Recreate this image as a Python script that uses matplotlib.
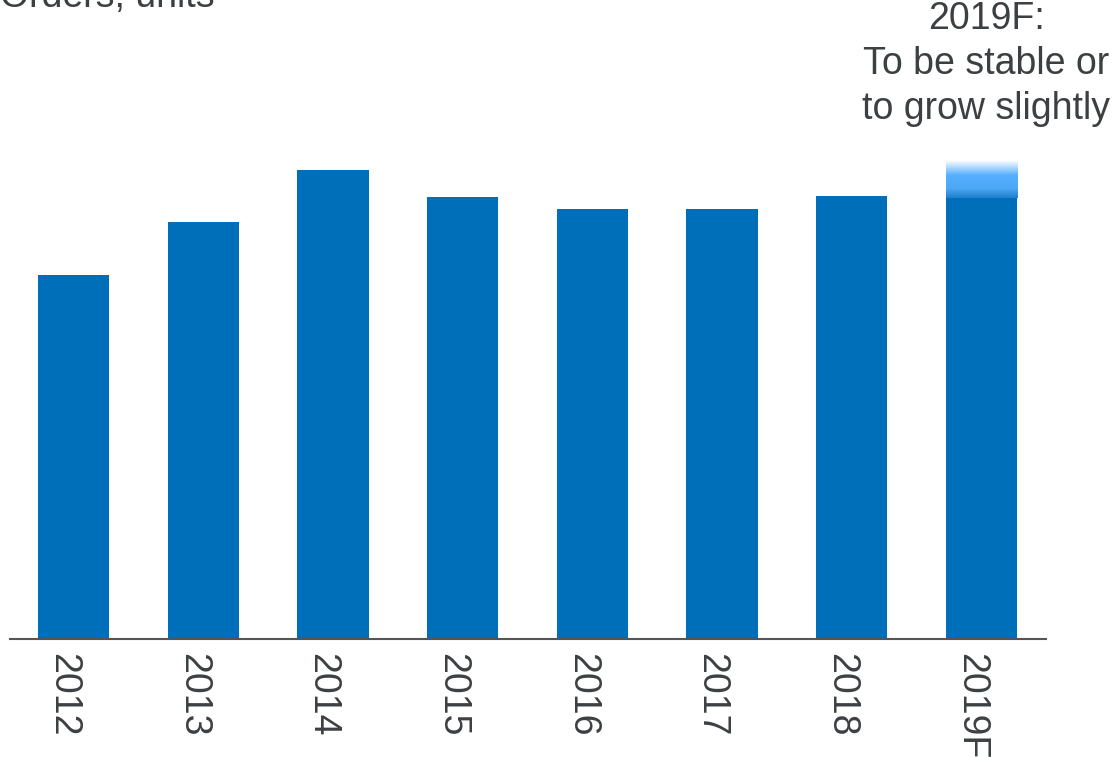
import numpy as np
import matplotlib.pyplot as plt
from matplotlib.colors import LinearSegmentedColormap

# Datos (unidades relativas)
years = ['2012', '2013', '2014', '2015', '2016', '2017', '2018', '2019F']
orders = [364, 417, 469, 442, 430, 430, 443, 441]
forecast_top = 479  # rango superior del pronóstico 2019F

blue = '#006FB9'
text_col = '#3C4043'

fig = plt.figure(figsize=(11.12, 7.57), dpi=100)
ax = fig.add_axes([10 / 1112, 118 / 757, 1036 / 1112, 539 / 757])

x = np.arange(len(years))
w = 0.55
ax.bar(x, orders, width=w, color=blue, zorder=2)

# degradado sobre la barra de pronóstico
cmap = LinearSegmentedColormap.from_list(
    'fc', [(0, '#1F7FCC'), (0.25, '#4DA8F5'), (0.6, '#55AEFF'), (1, '#FFFFFF')])
grad = np.linspace(0, 1, 100).reshape(-1, 1)
ax.imshow(grad, cmap=cmap, aspect='auto', origin='lower',
          extent=[x[-1] - w / 2, x[-1] + w / 2, orders[-1], forecast_top], zorder=2)

ax.set_xlim(-0.49, 7.5)
ax.set_ylim(0, 539)
# etiquetas un poco a la izquierda del centro de la barra, como en el original
ax.set_xticks(x - 0.08)
ax.set_xticklabels(years, rotation=-90, fontsize=27, color=text_col,
                   family='Liberation Sans')
ax.tick_params(axis='x', length=0, pad=10)
ax.set_yticks([])
for s in ['top', 'right', 'left']:
    ax.spines[s].set_visible(False)
ax.spines['bottom'].set_color('#555555')
ax.spines['bottom'].set_linewidth(1.5)

fig.text(0, 1 - 7 / 757, 'Orders, units', fontsize=27, color=text_col,
         family='Liberation Sans', ha='left', va='baseline')
fig.text(986 / 1112, 1 - 1 / 757, '2019F:\nTo be stable or\nto grow slightly',
         fontsize=27, color=text_col, family='Liberation Sans',
         ha='center', va='top', multialignment='center', linespacing=1.33)

fig.savefig('out.png', dpi=100)
